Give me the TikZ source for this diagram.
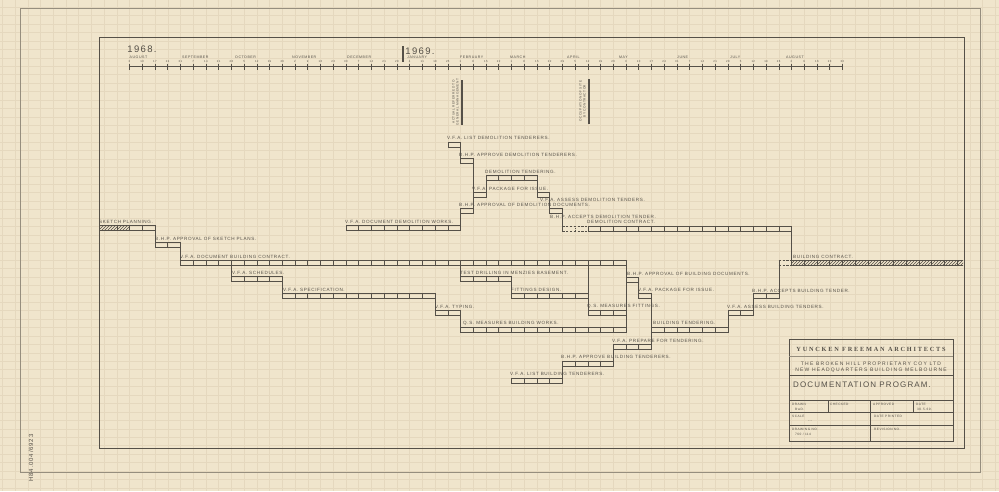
\documentclass[tikz,border=0pt]{standalone}
\usepackage{fontspec}
\usetikzlibrary{patterns}
\newfontfamily\hand[LetterSpace=14]{Liberation Sans}
\newfontfamily\tbsans[LetterSpace=25]{Liberation Sans}
\newfontfamily\docfont[LetterSpace=14]{Liberation Sans}
\newfontfamily\tserif[LetterSpace=28]{Liberation Serif}
\definecolor{paper}{RGB}{240,229,204}
\definecolor{gridc}{RGB}{229,216,190}
\definecolor{pencil}{RGB}{85,80,72}
\definecolor{pencilL}{RGB}{150,142,126}
\newcommand{\gbar}[3]{%
  \draw[pen] ({129.5+12.73*(#1)},#3) rectangle ({129.5+12.73*(#2)},{#3+5});
  \pgfmathtruncatemacro{\gba}{#1+1}%
  \pgfmathtruncatemacro{\gbb}{#2-1}%
  \ifnum\gba>\gbb\relax\else
    \foreach \k in {\gba,...,\gbb}{\draw[pen] ({129.5+12.73*\k},#3) -- ++(0,5);}%
  \fi}
\newcommand{\gcon}[3]{\draw[pen] ({129.5+12.73*(#1)},#2) -- ({129.5+12.73*(#1)},#3);}
\begin{document}
\begin{tikzpicture}[x=1pt,y=-1pt,
  pen/.style={draw=pencil,line width=0.45pt},
  penL/.style={draw=pencilL,line width=0.4pt},
  lab/.style={anchor=west,inner sep=0pt,text=pencil,font=\hand\fontsize{4.6}{5}\selectfont},
  mon/.style={anchor=west,inner sep=0pt,text=pencil,font=\hand\fontsize{3.6}{4}\selectfont},
  daylab/.style={anchor=center,inner sep=0pt,text=pencil,font=\hand\fontsize{2.8}{3}\selectfont},
  tbl/.style={anchor=west,inner sep=0pt,text=pencil,font=\hand\fontsize{3.2}{3.5}\selectfont},
  vtx/.style={rotate=90,inner sep=0pt,align=center,text=pencil,font=\hand\fontsize{3.2}{3.8}\selectfont},
]
\useasboundingbox (0,0) rectangle (999,491);
\fill[paper] (0,0) rectangle (999,491);
% graph paper
\foreach \k in {-10,...,68} \draw[gridc,line width=0.3pt] ({129.5+12.73*\k},0) -- ++(0,491);
\foreach \k in {-16,...,41} \draw[gridc,line width=0.25pt] (0,{142+8.43*\k}) -- ++(999,0);
% sheet borders
\draw[penL] (20,8) -- (20,472) -- (980,472) -- (980,8) -- cycle;
\draw[pen] (99,37) rectangle (964,448);

% ---------- timeline ----------
\node[anchor=center,inner sep=0pt,text=pencil,font=\hand\fontsize{9.5}{10}\selectfont] (y68) at (142,49) {1968.};
\node[anchor=center,inner sep=0pt,text=pencil,font=\hand\fontsize{9.5}{10}\selectfont] (y69) at (420,51) {1969.};
\draw[pencil,line width=2.2pt] (403,46) -- (403,62);
\foreach \m/\x [count=\n] in {AUGUST/129.5,SEPTEMBER/182,OCTOBER/235,NOVEMBER/292,DECEMBER/347,JANUARY/407,FEBRUARY/460,MARCH/510,APRIL/567,MAY/619,JUNE/677,JULY/730,AUGUST/786}
  \node[mon] (m\n) at (\x,57) {\m};
\draw[pen] (129.5,66) -- (842.5,66);
\foreach \d [count=\i from 0] in {3,10,17,24,31,7,14,21,28,5,12,19,26,2,9,16,23,30,7,14,21,28,4,11,18,25,1,8,15,22,1,8,15,22,29,5,12,19,26,3,10,17,24,31,7,14,21,28,5,12,19,26,2,9,16,23,30}{
  \draw[pen] ({129.5+12.73*\i},63.5) -- ++(0,6.5);
  \node[daylab] (d\i) at ({129.5+12.73*\i},61.3) {\d};
}
% vertical markers
\node[vtx] (mk1) at (455.5,102) {ACTUAL REFERRED TO\\GENERAL MANAGEMENT};
\draw[pencil,line width=2pt] (462,80) -- (462,125);
\node[vtx] (mk2) at (582.5,101) {OCCUPATION OF SITE\\BY CONTRACTOR};
\draw[pencil,line width=2pt] (588.5,79) -- (588.5,124);

% ---------- bars ----------
\gbar{25}{26}{142}
\gbar{26}{27}{158}
\gbar{28}{32}{175}
\gbar{27}{28}{192}
\gbar{32}{33}{192}
\gbar{26}{27}{208}
\gbar{33}{34}{208}
\gbar{17}{26}{225}
% demolition contract (dashed start)
\draw[pen,dash pattern=on 2.2pt off 1.6pt] ({129.5+12.73*34},226) -- ({129.5+12.73*36},226) ({129.5+12.73*34},231) -- ({129.5+12.73*36},231);
\draw[pen] ({129.5+12.73*34},226) -- ++(0,5);
\draw[pen,dash pattern=on 1pt off 1pt] ({129.5+12.73*35},226) -- ++(0,5);
\gbar{36}{52}{226}
% sketch planning
\fill[pattern=north east lines,pattern color=pencil] (99,225) rectangle (129.5,230);
\draw[pen] (99,225) rectangle (129.5,230);
\draw[pen] (116.8,225) -- ++(0,5);
\gbar{0}{2}{225}
\gbar{2}{4}{242}
\gbar{4}{39}{260}
% building contract
\draw[pen,dash pattern=on 2.2pt off 1.6pt] ({129.5+12.73*51},260) -- ({129.5+12.73*52},260) ({129.5+12.73*51},265) -- ({129.5+12.73*52},265);
\draw[pen] ({129.5+12.73*51},260) -- ++(0,5);
\fill[pattern=north east lines,pattern color=pencil] ({129.5+12.73*52},260) rectangle (963,265);
\draw[pen] (963,260) -- ({129.5+12.73*52},260) -- ++(0,5) -- (963,265);
\foreach \k in {53,...,65} \draw[pen] ({129.5+12.73*\k},260) -- ++(0,5);
\gbar{8}{12}{276}
\gbar{26}{30}{276}
\gbar{39}{40}{277}
\gbar{12}{24}{293}
\gbar{30}{36}{293}
\gbar{40}{41}{293}
\gbar{49}{51}{293}
\gbar{24}{26}{310}
\gbar{36}{39}{310}
\gbar{47}{49}{310}
\gbar{26}{39}{327}
\gbar{41}{47}{327}
\gbar{38}{41}{344}
\gbar{34}{38}{361}
\gbar{30}{34}{378}

% ---------- connectors ----------
\foreach \a/\b/\c in {26/147/158, 27/163/208, 28/180/192, 32/180/192, 33/197/208, 34/213/226, 26/213/225, 52/231/260,
  2/230/242, 4/247/260, 8/265/276, 12/281/293, 24/298/310, 26/315/327, 26/265/276, 30/281/293, 36/265/310,
  39/265/327, 40/282/293, 41/298/344, 38/349/361, 34/366/378, 47/315/327, 49/298/310, 51/265/293}
  \gcon{\a}{\b}{\c};

% ---------- labels ----------
\node[lab] (t1) at (447,138) {V.F.A. LIST DEMOLITION TENDERERS.};
\node[lab] (t2) at (459,155) {B.H.P. APPROVE DEMOLITION TENDERERS.};
\node[lab] (t3) at (485,172) {DEMOLITION TENDERING.};
\node[lab] (t4) at (472,188.5) {V.F.A. PACKAGE FOR ISSUE.};
\node[lab] (t5) at (540,199.5) {V.F.A. ASSESS DEMOLITION TENDERS.};
\node[lab] (t6) at (459,205) {B.H.P. APPROVAL OF DEMOLITION DOCUMENTS.};
\node[lab] (t7) at (550,216.5) {B.H.P. ACCEPTS DEMOLITION TENDER.};
\node[lab] (t8) at (587,222) {DEMOLITION CONTRACT.};
\node[lab] (t9) at (99,221.5) {SKETCH PLANNING.};
\node[lab] (t10) at (345,221.5) {V.F.A. DOCUMENT DEMOLITION WORKS.};
\node[lab] (t11) at (155,239) {B.H.P. APPROVAL OF SKETCH PLANS.};
\node[lab] (t12) at (180,256.5) {V.F.A. DOCUMENT BUILDING CONTRACT.};
\node[lab] (t13) at (793,256.5) {BUILDING CONTRACT.};
\node[lab] (t14) at (232,273) {V.F.A. SCHEDULES.};
\node[lab] (t15) at (460,273) {TEST DRILLING IN MENZIES BASEMENT.};
\node[lab] (t16) at (627,273.5) {B.H.P. APPROVAL OF BUILDING DOCUMENTS.};
\node[lab] (t17) at (283,289.5) {V.F.A. SPECIFICATION.};
\node[lab] (t18) at (511,290) {FITTINGS DESIGN.};
\node[lab] (t19) at (638,290) {V.F.A. PACKAGE FOR ISSUE.};
\node[lab] (t20) at (752,290.5) {B.H.P. ACCEPTS BUILDING TENDER.};
\node[lab] (t21) at (435,306.5) {V.F.A. TYPING.};
\node[lab] (t22) at (587,306.5) {Q.S. MEASURES FITTINGS.};
\node[lab] (t23) at (727,306.5) {V.F.A. ASSESS BUILDING TENDERS.};
\node[lab] (t24) at (463,323) {Q.S. MEASURES BUILDING WORKS.};
\node[lab] (t25) at (653,323) {BUILDING TENDERING.};
\node[lab] (t26) at (612,340.5) {V.F.A. PREPARE FOR TENDERING.};
\node[lab] (t27) at (561,357) {B.H.P. APPROVE BUILDING TENDERERS.};
\node[lab] (t28) at (510,374) {V.F.A. LIST BUILDING TENDERERS.};

% ---------- title block ----------
\draw[pencil,line width=0.7pt] (789,339) rectangle (953,441);
\draw[penL] (789,356) -- (953,356);
\draw[pen] (789,375.5) -- (953,375.5);
\draw[pen] (789,400) -- (953,400);
\draw[pen] (789,412.5) -- (953,412.5);
\draw[pen] (789,425) -- (953,425);
\draw[pen] (828,400) -- (828,412.5);
\draw[pen] (870,400) -- (870,441);
\draw[pen] (913,400) -- (913,412.5);
\node[inner sep=0pt,text=pencil,font=\tserif\bfseries\fontsize{6.3}{7}\selectfont] (firm) at (871,349.5) {YUNCKEN FREEMAN ARCHITECTS};
\node[inner sep=0pt,text=pencil,font=\tbsans\fontsize{5}{6}\selectfont] (cl1) at (871,363.5) {THE BROKEN HILL PROPRIETARY COY LTD};
\node[inner sep=0pt,text=pencil,font=\tbsans\fontsize{5}{6}\selectfont] (cl2) at (871,370) {NEW HEADQUARTERS BUILDING MELBOURNE};
\node[anchor=west,inner sep=0pt,text=pencil,font=\docfont\fontsize{8}{9}\selectfont] (dp) at (793,385) {DOCUMENTATION PROGRAM.};
\node[tbl] (f1) at (792,404) {DRAWN};
\node[tbl] (f1v) at (795,409) {BwD.};
\node[tbl] (f2) at (830,404) {CHECKED};
\node[tbl] (f3) at (873,404) {APPROVED};
\node[tbl] (f4) at (916,404) {DATE};
\node[tbl] (f4v) at (917,409) {30.5.69.};
\node[tbl] (f5) at (792,416.5) {SCALE};
\node[tbl] (f5v) at (808,421.5) {---};
\node[tbl] (f6) at (874,416.5) {DATE PRINTED};
\node[tbl] (f7) at (792,429) {DRAWING NO.};
\node[tbl] (f7v) at (795,434.5) {760 / 114};
\node[tbl] (f8) at (874,429) {REVISION NO.};

% archive note
\node[rotate=90,inner sep=0pt,text=pencil,font=\hand\fontsize{6}{7}\selectfont] (arch) at (31,458) {H84.004/6923};
\end{tikzpicture}
\end{document}
